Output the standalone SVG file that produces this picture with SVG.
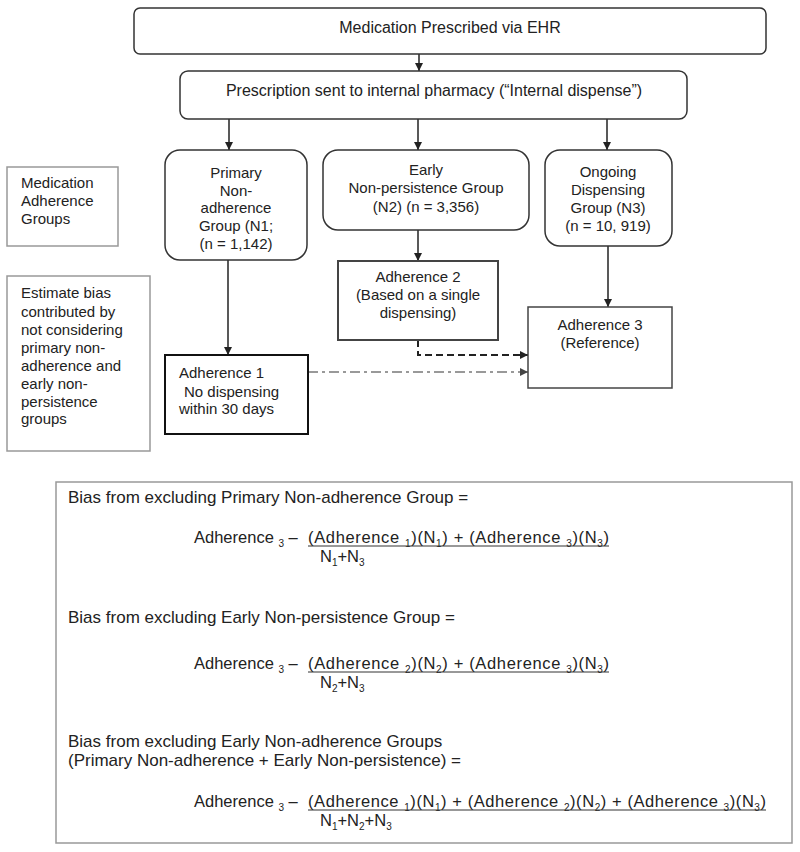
<svg xmlns="http://www.w3.org/2000/svg" width="800" height="852" viewBox="0 0 800 852">
<defs>
<style>
text{font-family:"Liberation Sans",Arial,sans-serif;fill:#222;}
.t{font-size:15px;}
.tt{font-size:16px;}
.c{text-anchor:middle;}
.b{font-size:16.5px;}
.h{font-size:17px;}
.sub{font-size:10px;}
.box{fill:#fff;stroke:#333;stroke-width:1.5;}
.gray{fill:#fff;stroke:#999;stroke-width:1.5;}
.ln{fill:none;stroke:#222;stroke-width:1.5;}
</style>
<marker id="ah" viewBox="0 0 10 10" refX="10" refY="5" markerWidth="8" markerHeight="8" markerUnits="userSpaceOnUse" orient="auto">
<path d="M0,0 L10,5 L0,10 Z" fill="#222"/>
</marker>
<marker id="ahg" viewBox="0 0 10 10" refX="10" refY="5" markerWidth="8" markerHeight="8" markerUnits="userSpaceOnUse" orient="auto">
<path d="M0,0 L10,5 L0,10 Z" fill="#444"/>
</marker>
</defs>
<rect width="800" height="852" fill="#fff"/>

<g id="connectors">
<line class="ln" x1="419" y1="54" x2="419" y2="71" marker-end="url(#ah)"/>
<line class="ln" x1="229" y1="119" x2="229" y2="150" marker-end="url(#ah)"/>
<line class="ln" x1="418" y1="119" x2="418" y2="150" marker-end="url(#ah)"/>
<line class="ln" x1="607" y1="119" x2="607" y2="150" marker-end="url(#ah)"/>
<line class="ln" x1="228" y1="260" x2="228" y2="355" marker-end="url(#ah)"/>
<line class="ln" x1="418" y1="230" x2="418" y2="261" marker-end="url(#ah)"/>
<line class="ln" x1="608" y1="246" x2="608" y2="307" marker-end="url(#ah)"/>
<path d="M418,340 V355 H528" fill="none" stroke="#222" stroke-width="2" stroke-dasharray="7,4" marker-end="url(#ah)"/>
<path d="M308,372 H528" fill="none" stroke="#999" stroke-width="2" stroke-dasharray="10,4,3,4" marker-end="url(#ahg)"/>
</g>

<g id="n-prescribed">
<rect class="box" x="134" y="8" width="632" height="46" rx="6"/>
<text class="tt c" x="450" y="33">Medication Prescribed via EHR</text>
</g>

<g id="n-internal">
<rect class="box" x="180" y="71" width="507" height="48" rx="8"/>
<text class="tt c" x="434" y="96">Prescription sent to internal pharmacy (“Internal dispense”)</text>
</g>

<g id="n-groups-label">
<rect class="gray" x="7" y="167" width="111" height="79"/>
<text class="t" x="21" y="188">Medication</text>
<text class="t" x="21" y="206">Adherence</text>
<text class="t" x="21" y="224">Groups</text>
</g>

<g id="n-primary">
<rect class="box" x="165" y="150" width="142" height="110" rx="15"/>
<text class="t c" x="236" y="178">Primary</text>
<text class="t c" x="236" y="196">Non-</text>
<text class="t c" x="236" y="213">adherence</text>
<text class="t c" x="236" y="231">Group (N1;</text>
<text class="t c" x="236" y="249">(n = 1,142)</text>
</g>

<g id="n-early">
<rect class="box" x="323" y="150" width="206" height="80" rx="15"/>
<text class="t c" x="426" y="175">Early</text>
<text class="t c" x="426" y="193">Non-persistence Group</text>
<text class="t c" x="426" y="212">(N2) (n = 3,356)</text>
</g>

<g id="n-ongoing">
<rect class="box" x="545" y="150" width="127" height="96" rx="15"/>
<text class="t c" x="608" y="177">Ongoing</text>
<text class="t c" x="608" y="195">Dispensing</text>
<text class="t c" x="608" y="213">Group (N3)</text>
<text class="t c" x="608" y="231">(n = 10, 919)</text>
</g>

<g id="n-estimate-label">
<rect class="gray" x="7" y="276" width="143" height="175"/>
<text class="t" x="21" y="298">Estimate bias</text>
<text class="t" x="21" y="317">contributed by</text>
<text class="t" x="21" y="335">not considering</text>
<text class="t" x="21" y="353">primary non-</text>
<text class="t" x="21" y="371">adherence and</text>
<text class="t" x="21" y="389">early non-</text>
<text class="t" x="21" y="407">persistence</text>
<text class="t" x="21" y="424">groups</text>
</g>

<g id="n-adherence2">
<rect fill="#fff" stroke="#444" stroke-width="2" x="338" y="261" width="160" height="79"/>
<text class="t c" x="418" y="282">Adherence 2</text>
<text class="t c" x="418" y="300">(Based on a single</text>
<text class="t c" x="418" y="318">dispensing)</text>
</g>

<g id="n-adherence1">
<rect fill="#fff" stroke="#111" stroke-width="2" x="165" y="355" width="143" height="79"/>
<text class="t" x="179" y="378">Adherence 1</text>
<text class="t" x="184" y="397">No dispensing</text>
<text class="t" x="179" y="414">within 30 days</text>
</g>

<g id="n-adherence3">
<rect fill="#fff" stroke="#444" stroke-width="1.5" x="528" y="307" width="144" height="81"/>
<text class="t c" x="600" y="330">Adherence 3</text>
<text class="t c" x="600" y="348">(Reference)</text>
</g>

<g id="n-bias">
<rect class="gray" x="56" y="482" width="736" height="361"/>
<text class="h" x="68" y="503">Bias from excluding Primary Non-adherence Group =</text>
<text class="b" x="194" y="543">Adherence <tspan class="sub" dy="4">3</tspan><tspan dy="-4"> –</tspan></text>
<text class="b" x="308" y="543" textLength="301" lengthAdjust="spacing">(Adherence <tspan class="sub" dy="4">1</tspan><tspan dy="-4">)(N</tspan><tspan class="sub" dy="4">1</tspan><tspan dy="-4">) + (Adherence </tspan><tspan class="sub" dy="4">3</tspan><tspan dy="-4">)(N</tspan><tspan class="sub" dy="4">3</tspan><tspan dy="-4">)</tspan></text>
<line x1="308" y1="546" x2="609" y2="546" stroke="#333" stroke-width="1"/>
<text class="b" x="320" y="562">N<tspan class="sub" dy="4">1</tspan><tspan dy="-4">+N</tspan><tspan class="sub" dy="4">3</tspan></text>

<text class="h" x="68" y="623">Bias from excluding Early Non-persistence Group =</text>
<text class="b" x="194" y="669">Adherence <tspan class="sub" dy="4">3</tspan><tspan dy="-4"> –</tspan></text>
<text class="b" x="308" y="669" textLength="301" lengthAdjust="spacing">(Adherence <tspan class="sub" dy="4">2</tspan><tspan dy="-4">)(N</tspan><tspan class="sub" dy="4">2</tspan><tspan dy="-4">) + (Adherence </tspan><tspan class="sub" dy="4">3</tspan><tspan dy="-4">)(N</tspan><tspan class="sub" dy="4">3</tspan><tspan dy="-4">)</tspan></text>
<line x1="308" y1="672" x2="609" y2="672" stroke="#333" stroke-width="1"/>
<text class="b" x="320" y="688">N<tspan class="sub" dy="4">2</tspan><tspan dy="-4">+N</tspan><tspan class="sub" dy="4">3</tspan></text>

<text class="h" x="68" y="747">Bias from excluding Early Non-adherence Groups</text>
<text class="h" x="68" y="766">(Primary Non-adherence + Early Non-persistence) =</text>
<text class="b" x="194" y="807">Adherence <tspan class="sub" dy="4">3</tspan><tspan dy="-4"> –</tspan></text>
<text class="b" x="308" y="807" textLength="458" lengthAdjust="spacing">(Adherence <tspan class="sub" dy="4">1</tspan><tspan dy="-4">)(N</tspan><tspan class="sub" dy="4">1</tspan><tspan dy="-4">) + (Adherence </tspan><tspan class="sub" dy="4">2</tspan><tspan dy="-4">)(N</tspan><tspan class="sub" dy="4">2</tspan><tspan dy="-4">) + (Adherence </tspan><tspan class="sub" dy="4">3</tspan><tspan dy="-4">)(N</tspan><tspan class="sub" dy="4">3</tspan><tspan dy="-4">)</tspan></text>
<line x1="308" y1="810" x2="766" y2="810" stroke="#333" stroke-width="1"/>
<text class="b" x="320" y="826">N<tspan class="sub" dy="4">1</tspan><tspan dy="-4">+N</tspan><tspan class="sub" dy="4">2</tspan><tspan dy="-4">+N</tspan><tspan class="sub" dy="4">3</tspan></text>
</g>
</svg>
